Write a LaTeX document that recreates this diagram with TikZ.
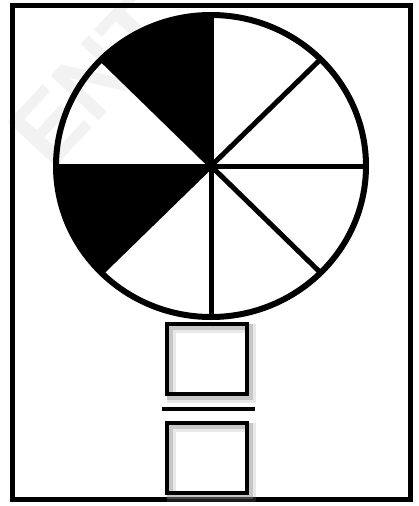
\documentclass[tikz,border=0pt]{standalone}
\usepackage{fontspec}
\setmainfont{Liberation Sans}
\begin{document}
\begin{tikzpicture}[x=1pt,y=-1pt,
  frame/.style={draw=black,line width=5pt},
  spoke/.style={draw=black,line width=5pt,line cap=butt},
  ans/.style={draw=black,line width=4.5pt},
  shade1/.style={draw=black!45,line width=6pt,opacity=0.35},
  shade2/.style={draw=black!45,line width=9pt,opacity=0.2}]
\useasboundingbox (0,0) rectangle (418,506);
\fill[white] (0,0) rectangle (418,506);
% watermark
\node[text=black!5,font=\bfseries\fontsize{95}{95}\selectfont,rotate=47] (wm) at (92,80) {ENT};
\draw[frame] (12,5) rectangle (410,499);
% pie
\coordinate (c) at (211,166);
\fill[black] (c) -- (211,15) arc[start angle=-90,end angle=-135,x radius=155,y radius=151] -- cycle;
\fill[black] (c) -- (56,166) arc[start angle=180,end angle=135,x radius=155,y radius=151] -- cycle;
\foreach \a in {0,45,...,315}{
  \draw[spoke] (c) -- ({211+155*cos(\a)},{166+151*sin(\a)});
}
\draw[line width=6pt] (c) ellipse[x radius=155,y radius=151];
% fraction boxes
\foreach \n/\ya/\yb in {num/324/394,den/423/493}{
  \draw[shade2] (171,\ya+4) rectangle (251,\yb+4);
  \draw[shade1] (170,\ya+3) rectangle (250,\yb+3);
  \draw[ans] (167,\ya) rectangle (247,\yb);
  \coordinate (\n) at (207,\ya);
}
\coordinate (la) at (162,409);
\coordinate (lb) at (255,409);
\draw[line width=4.5pt] (la) -- (lb);
\end{tikzpicture}
\end{document}
